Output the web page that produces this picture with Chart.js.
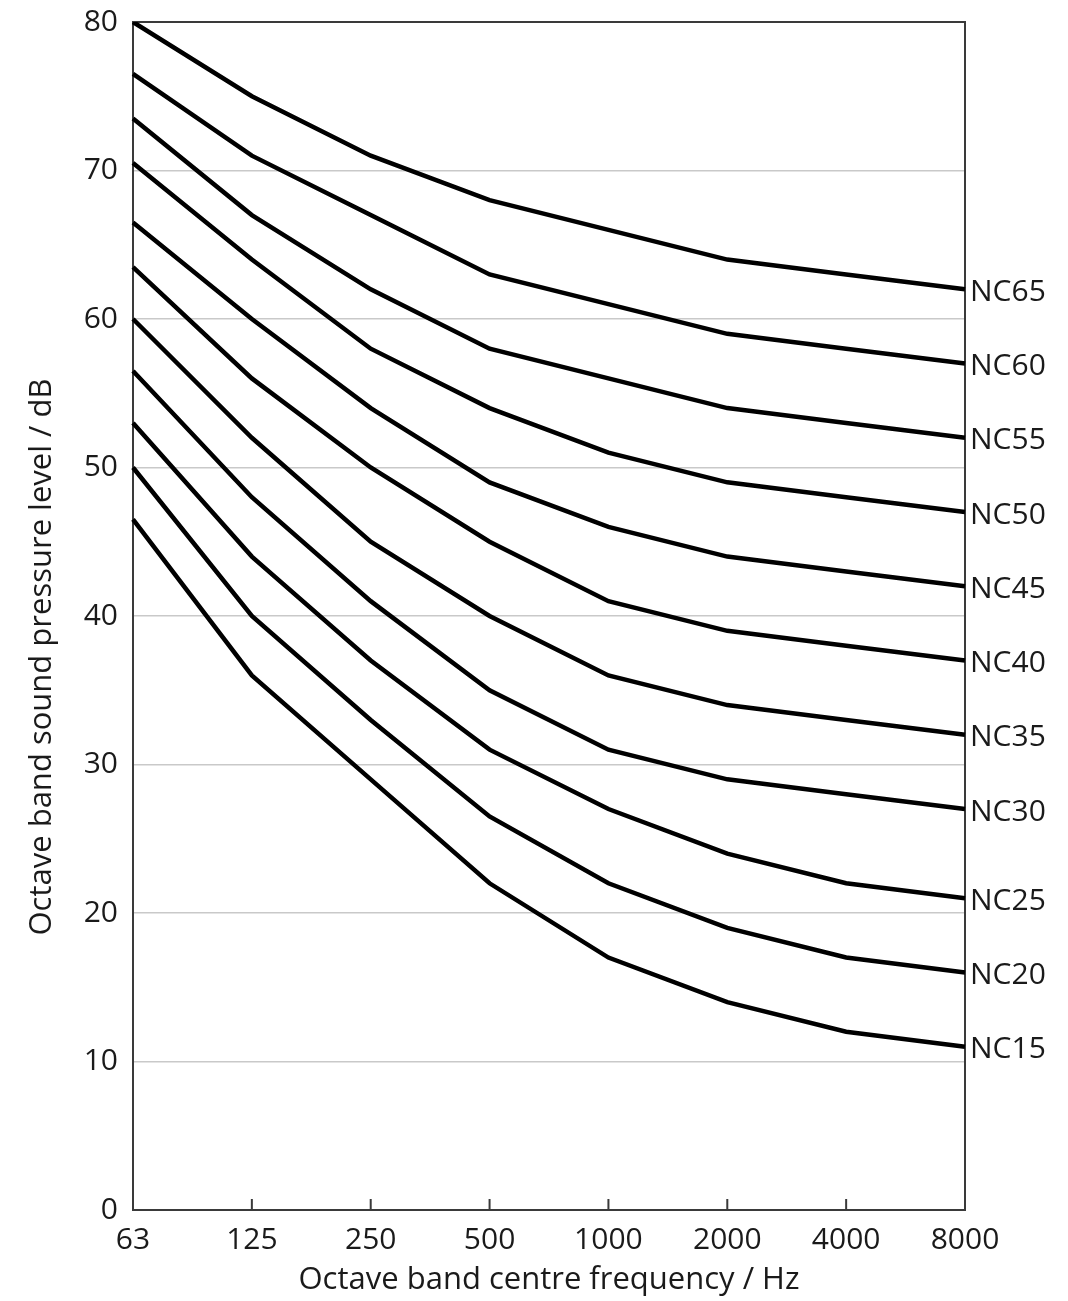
<!DOCTYPE html>
<html>
<head>
<meta charset="utf-8">
<script src="https://cdn.jsdelivr.net/npm/chart.js@4.4.1/dist/chart.umd.min.js"></script>
<style>
  html, body { margin: 0; padding: 0; background: #fff; }
  #wrap { width: 1068px; height: 1301px; position: relative; }
</style>
</head>
<body>
<div id="wrap"><canvas id="nc-chart"></canvas></div>
<script>
// ─── NC curves — octave band levels ───────────────────────────────────────────

const freqLabels = ["63", "125", "250", "500", "1000", "2000", "4000", "8000"];
const yTicks = [0, 10, 20, 30, 40, 50, 60, 70, 80];

const nc65 = [80, 75, 71, 68, 66, 64, 63, 62];
const nc60 = [76.5, 71, 67, 63, 61, 59, 58, 57];
const nc55 = [73.5, 67, 62, 58, 56, 54, 53, 52];
const nc50 = [70.5, 64, 58, 54, 51, 49, 48, 47];
const nc45 = [66.5, 60, 54, 49, 46, 44, 43, 42];
const nc40 = [63.5, 56, 50, 45, 41, 39, 38, 37];
const nc35 = [60, 52, 45, 40, 36, 34, 33, 32];
const nc30 = [56.5, 48, 41, 35, 31, 29, 28, 27];
const nc25 = [53, 44, 37, 31, 27, 24, 22, 21];
const nc20 = [50, 40, 33, 26.5, 22, 19, 17, 16];
const nc15 = [46.5, 36, 29, 22, 17, 14, 12, 11];

const curveNames = ["NC65", "NC60", "NC55", "NC50", "NC45", "NC40", "NC35", "NC30", "NC25", "NC20", "NC15"];
const curveValues = [nc65, nc60, nc55, nc50, nc45, nc40, nc35, nc30, nc25, nc20, nc15];

const FONT = "'Open Sans', 'DejaVu Sans', sans-serif";
const TEXT = "#1a1a1a";

// frame round the plot + little inward ticks on the x axis
const framePlugin = {
  id: "frame",
  beforeDatasetsDraw(chart) {
    const { ctx, chartArea: a, scales } = chart;
    ctx.save();
    ctx.strokeStyle = "#3a3a3a";
    ctx.lineWidth = 2;
    ctx.strokeRect(a.left, a.top, a.right - a.left, a.bottom - a.top);
    ctx.beginPath();
    for (let i = 1; i < freqLabels.length - 1; i++) {
      const x = scales.x.getPixelForTick(i);
      ctx.moveTo(x, a.bottom);
      ctx.lineTo(x, a.bottom - 11);
    }
    ctx.stroke();
    ctx.restore();
  },
};

// NC names at line ends, and the rotated y title
const labelPlugin = {
  id: "ncLabels",
  afterDatasetsDraw(chart) {
    const { ctx } = chart;
    ctx.save();
    ctx.fillStyle = TEXT;
    ctx.font = "500 30px " + FONT;
    ctx.textAlign = "left";
    ctx.textBaseline = "middle";
    chart.data.datasets.forEach((ds, i) => {
      const pts = chart.getDatasetMeta(i).data;
      const p = pts[pts.length - 1];
      ctx.fillText(ds.label, p.x + 5, p.y + 3);
    });
    ctx.font = "500 31px " + FONT;
    ctx.translate(42, 657);
    ctx.rotate(-Math.PI / 2);
    ctx.textAlign = "center";
    ctx.fillText("Octave band sound pressure level / dB", 0, 0);
    ctx.restore();
  },
};

new Chart(document.getElementById("nc-chart"), {
  type: "line",
  data: {
    labels: freqLabels,
    datasets: curveNames.map((name, i) => ({
      label: name,
      data: curveValues[i],
      borderColor: "#000",
      borderWidth: 4.5,
      pointRadius: 0,
      tension: 0,
      fill: false,
    })),
  },
  options: {
    responsive: true,
    maintainAspectRatio: false,
    animation: false,
    layout: { padding: { top: 22, right: 103, left: 0, bottom: 0 } },
    plugins: { legend: { display: false }, tooltip: { enabled: false } },
    scales: {
      x: {
        type: "category",
        offset: false,
        grid: { display: false, drawTicks: false },
        border: { display: false },
        ticks: { color: TEXT, font: { family: FONT, size: 30, weight: 500 }, padding: 12, maxRotation: 0, autoSkip: false },
        title: {
          display: true,
          text: "Octave band centre frequency / Hz",
          color: TEXT,
          font: { family: FONT, size: 31, weight: 500 },
          padding: { top: 4, bottom: 2 },
        },
        afterFit(scale) { scale.height = 91; },
      },
      y: {
        min: 0,
        max: 80,
        afterBuildTicks(scale) { scale.ticks = yTicks.map(v => ({ value: v })); },
        grid: {
          drawTicks: false,
          color: ctx => (ctx.tick && (ctx.tick.value === 0 || ctx.tick.value === 80) ? "rgba(0,0,0,0)" : "#c9c9c9"),
          lineWidth: 1.5,
        },
        border: { display: false },
        ticks: { color: TEXT, font: { family: FONT, size: 30, weight: 500 }, padding: 15 },
        afterFit(scale) {
          scale.width = 133;
          scale.paddingTop = 0;
          scale.paddingBottom = 0;
        },
      },
    },
  },
  plugins: [framePlugin, labelPlugin],
});
</script>
</body>
</html>
